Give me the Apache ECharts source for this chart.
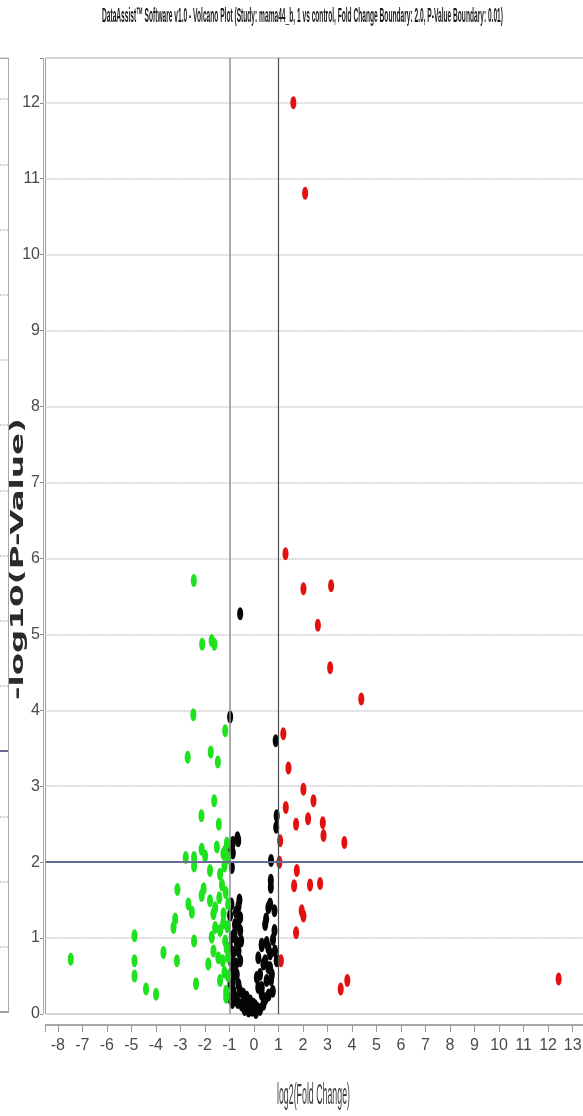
<!DOCTYPE html>
<html>
<head>
<meta charset="utf-8">
<script src="https://cdn.jsdelivr.net/npm/echarts@6/dist/echarts.min.js"></script>
<style>
  html, body { margin: 0; padding: 0; background: #ffffff; }
  #chart { width: 583px; height: 1116px; }
</style>
</head>
<body>
<div id="chart"></div>
<script>
// ---- Texts ----
const titleText = 'DataAssist\u2122 Software v1.0 - Volcano Plot (Study: mama44_b, 1 vs control, Fold Change Boundary: 2.0, P-Value Boundary: 0.01)';
const xAxisTitle = 'log2(Fold Change)';
const yAxisTitle = '-log10(P-Value)';

// ---- Boundaries used for the threshold lines ----
const foldChangeBoundary = 2.0;
const pValueBoundary = 0.01;

// ---- Axis ranges and tick labels ----
const xRange = [-8.5, 13.5];
const yRange = [0, 12.59];
const xTicks = [-8, -7, -6, -5, -4, -3, -2, -1, 0, 1, 2, 3, 4, 5, 6, 7, 8, 9, 10, 11, 12, 13];
const yTicks = [0, 1, 2, 3, 4, 5, 6, 7, 8, 9, 10, 11, 12];

// neighbouring panel (only its right edge is in view)
const prevPanelRange = [0, 14.63];
const prevPanelCutoff = 4;

// ---- Genes: [log2(fold change), -log10(p-value)] ----
const upRegulated = [
  [1.61, 12.0], [2.09, 10.81], [1.29, 6.06], [2.02, 5.60], [3.15, 5.64],
  [2.61, 5.12], [3.11, 4.56], [4.38, 4.15], [1.20, 3.69], [1.41, 3.24],
  [2.02, 2.96], [2.43, 2.81], [1.30, 2.72], [2.21, 2.57], [1.72, 2.50],
  [2.81, 2.52], [2.84, 2.35], [3.69, 2.26], [1.07, 2.28], [1.04, 2.00],
  [1.75, 1.89], [1.64, 1.69], [2.29, 1.70], [2.70, 1.72], [1.95, 1.36],
  [2.02, 1.29], [1.72, 1.07], [1.10, 0.70], [3.54, 0.33], [3.81, 0.44],
  [12.43, 0.46]
];

const downRegulated = [
  [-2.45, 5.71], [-2.11, 4.87], [-1.72, 4.92], [-1.61, 4.87],
  [-2.47, 3.94], [-1.17, 3.73], [-2.70, 3.38], [-1.76, 3.45], [-1.47, 3.32],
  [-1.62, 2.81], [-2.14, 2.61], [-1.43, 2.50],
  [-2.78, 2.06], [-2.44, 2.06], [-2.13, 2.17], [-1.99, 2.08], [-1.51, 2.20],
  [-1.24, 2.11], [-1.17, 2.15], [-1.10, 2.25],
  [-2.44, 1.95], [-1.79, 1.89], [-1.38, 1.84], [-1.20, 1.95], [-1.05, 2.05],
  [-3.12, 1.64], [-2.67, 1.45], [-2.53, 1.34], [-2.13, 1.56], [-2.05, 1.65],
  [-1.79, 1.49], [-1.58, 1.40], [-1.41, 1.53], [-1.24, 1.32], [-1.65, 1.32],
  [-1.30, 1.70], [-1.15, 1.60], [-1.05, 1.45],
  [-3.28, 1.14], [-3.21, 1.25], [-4.87, 1.03], [-2.44, 0.96], [-1.72, 1.01],
  [-1.58, 1.14], [-1.38, 1.10], [-1.17, 0.96], [-1.11, 0.87], [-1.25, 1.20],
  [-1.08, 1.15],
  [-7.47, 0.72], [-4.87, 0.70], [-3.69, 0.81], [-3.14, 0.70], [-1.86, 0.66],
  [-1.65, 0.83], [-1.45, 0.74], [-1.27, 0.70], [-1.05, 0.75],
  [-4.87, 0.50], [-4.40, 0.33], [-3.99, 0.26], [-2.36, 0.40], [-1.38, 0.44],
  [-1.13, 0.30], [-1.13, 0.22], [-1.20, 0.55], [-1.05, 0.50]
];

const unchanged = [
  [-0.56, 5.27], [-0.97, 3.91], [0.89, 3.60],
  [0.93, 2.61], [0.91, 2.46],
  [-0.64, 2.28], [-0.86, 2.26], [-0.94, 2.19], [-0.67, 2.32], [-0.86, 2.12],
  [-0.90, 1.93], [0.70, 2.02],
  [0.69, 1.67], [0.69, 1.76],
  [0.59, 1.40], [0.84, 1.36], [0.66, 1.45],
  [0.46, 1.18], [0.50, 1.25],
  [-0.63, 1.42], [-0.59, 1.50], [-0.73, 1.34], [-0.56, 1.27], [-0.77, 1.18], [-0.56, 1.10],
  [-0.90, 1.01], [-0.70, 0.94], [-0.52, 0.96], [-0.97, 0.87], [-0.84, 0.81], [-0.63, 0.83],
  [-0.94, 0.70], [-0.73, 0.66], [-0.56, 0.70], [-0.90, 0.57], [-0.70, 0.52], [-0.86, 0.44],
  [-0.63, 0.39], [-0.84, 0.30], [-0.56, 0.30], [-0.43, 0.26], [-0.29, 0.22], [-0.15, 0.17],
  [-0.02, 0.13], [0.12, 0.08], [0.25, 0.06], [0.39, 0.13], [0.32, 0.26], [0.18, 0.35],
  [0.25, 0.52], [0.18, 0.74], [0.32, 0.90], [0.52, 0.94], [0.46, 0.70], [0.66, 0.79],
  [0.59, 0.61], [0.73, 0.52], [0.52, 0.44], [0.77, 0.30],
  [0.32, 0.92], [0.59, 0.87], [0.39, 0.66], [0.66, 0.61], [0.93, 0.70], [0.12, 0.48], [0.32, 0.35],
  [0.05, 0.11], [-0.43, 0.17], [-0.15, 0.08], [-0.29, 0.13],
  [-0.95, 0.20], [-0.88, 0.15], [-0.75, 0.22], [-0.66, 0.15], [-0.50, 0.12], [-0.38, 0.06],
  [-0.22, 0.04], [-0.08, 0.05], [0.08, 0.02],
  [-0.97, 1.30], [-0.92, 1.45], [-0.85, 0.65], [-0.95, 0.40], [-0.80, 1.05], [-0.65, 1.18],
  [0.84, 1.10], [0.78, 0.98], [0.86, 0.83], [0.60, 0.25], [0.47, 0.20], [0.70, 0.45]
];

// ---- Styling ----
const labelFont = '"Liberation Sans Narrow", "Liberation Sans", Arial, sans-serif';
const titleFont = 'bold 21px "Liberation Sans", Arial, sans-serif';
const xNameFont = 'normal 30px "Liberation Sans", Arial, sans-serif';
const yNameFont = 'bold 17px "DejaVu Sans", sans-serif';
// upright oval marker
const ovalPath = 'path://M0,-1C0.55,-1 1,-0.55 1,0C1,0.55 0.55,1 0,1C-0.55,1 -1,0.55 -1,0C-1,-0.55 -0.55,-1 0,-1Z';
const markerSize = [6, 13];

function measure(text, font) {
  const ctx = document.createElement('canvas').getContext('2d');
  ctx.font = font;
  return ctx.measureText(text).width;
}

function tickFormatter(ticks) {
  return function (v) {
    const r = Math.round(v * 1000) / 1000;
    return ticks.indexOf(r) >= 0 ? String(r) : '';
  };
}

const gridLineStyle = { color: '#d6d6d6', width: 2, type: [2, 1] };

const chart = echarts.init(document.getElementById('chart'), null, { renderer: 'canvas' });

const option = {
  animation: false,
  backgroundColor: '#ffffff',
  graphic: [
    {
      type: 'text', x: 302.5, y: 16.5, silent: true,
      scaleX: 401 / measure(titleText, titleFont),
      style: { text: titleText, font: titleFont, fill: '#1a1a1a', align: 'center', verticalAlign: 'middle', textAlign: 'center', textVerticalAlign: 'middle' }
    },
    {
      type: 'text', x: 313.5, y: 1096, silent: true,
      scaleX: 73 / measure(xAxisTitle, xNameFont),
      style: { text: xAxisTitle, font: xNameFont, fill: '#3c3c3c', align: 'center', verticalAlign: 'middle', textAlign: 'center', textVerticalAlign: 'middle' }
    },
    {
      type: 'text', x: 19, y: 559, rotation: Math.PI / 2, silent: true,
      scaleX: 282 / measure(yAxisTitle, yNameFont),
      style: { text: yAxisTitle, font: yNameFont, fill: '#2a2a2a', align: 'center', verticalAlign: 'middle', textAlign: 'center', textVerticalAlign: 'middle' }
    }
  ],
  grid: [
    { left: 45.5, top: 58, width: 539.4, height: 956, show: true, borderColor: '#9c9c9c', borderWidth: 1, containLabel: false, outerBoundsMode: 'none' },
    { left: 0, top: 58, width: 8, height: 954, show: false, containLabel: false, outerBoundsMode: 'none' }
  ],
  xAxis: [
    {
      gridIndex: 0, type: 'value', min: xRange[0], max: xRange[1],
      minInterval: 1, maxInterval: 1, splitNumber: 22,
      axisLine: { show: false }, axisTick: { show: false }, axisLabel: { show: false }, splitLine: { show: false }
    },
    {
      gridIndex: 0, type: 'value', position: 'bottom', offset: 11,
      min: xRange[0], max: xRange[1], minInterval: 1, maxInterval: 1, splitNumber: 22,
      axisLine: { show: true, onZero: false, lineStyle: { color: '#a8a8a8', width: 2 } },
      axisTick: { show: true, length: 7, lineStyle: { color: '#9a9a9a', width: 1 } },
      axisLabel: {
        show: true, margin: 13, fontSize: 16, fontFamily: labelFont, color: '#4a4a4a',
        formatter: tickFormatter(xTicks), hideOverlap: false
      },
      splitLine: { show: false }
    },
    {
      gridIndex: 1, type: 'value', position: 'bottom', min: 0, max: 1,
      axisLine: { show: true, onZero: false, lineStyle: { color: '#a0a0a0', width: 2 } },
      axisTick: { show: false }, axisLabel: { show: false }, splitLine: { show: false }
    },
    {
      gridIndex: 1, type: 'value', position: 'top', min: 0, max: 1,
      axisLine: { show: true, onZero: false, lineStyle: { color: '#a8a8a8', width: 1 } },
      axisTick: { show: false }, axisLabel: { show: false }, splitLine: { show: false }
    }
  ],
  yAxis: [
    {
      gridIndex: 0, type: 'value', min: yRange[0], max: yRange[1],
      minInterval: 1, maxInterval: 1, splitNumber: 13, offset: 2.5,
      axisLine: { show: true, onZero: false, lineStyle: { color: '#a8a8a8', width: 1 } },
      axisTick: { show: true, length: 3, lineStyle: { color: '#8a8a8a' } },
      axisLabel: {
        show: true, margin: 3, fontSize: 16, fontFamily: labelFont, color: '#4a4a4a',
        formatter: tickFormatter(yTicks), hideOverlap: false
      },
      splitLine: { show: true, lineStyle: gridLineStyle }
    },
    {
      gridIndex: 1, type: 'value', position: 'right', min: prevPanelRange[0], max: prevPanelRange[1],
      minInterval: 1, maxInterval: 1, splitNumber: 15,
      axisLine: { show: true, onZero: false, lineStyle: { color: '#a8a8a8', width: 1 } },
      axisTick: { show: false }, axisLabel: { show: false },
      splitLine: { show: true, lineStyle: gridLineStyle }
    }
  ],
  series: [
    {
      // fold-change and p-value boundaries
      type: 'scatter', xAxisIndex: 0, yAxisIndex: 0, data: [], silent: true, z: 1,
      markLine: {
        silent: true, symbol: ['none', 'none'], label: { show: false },
        emphasis: { disabled: true },
        lineStyle: { type: 'solid' },
        data: [
          { xAxis: -Math.log2(foldChangeBoundary), lineStyle: { color: '#8e8e8e', width: 1.5, type: 'solid' } },
          { xAxis: Math.log2(foldChangeBoundary), lineStyle: { color: '#4e4e4e', width: 1.2, type: 'solid' } },
          { yAxis: -Math.log10(pValueBoundary), lineStyle: { color: '#676c96', width: 2.2, type: 'solid' } }
        ]
      }
    },
    {
      name: 'Unchanged', type: 'scatter', xAxisIndex: 0, yAxisIndex: 0, z: 3,
      data: unchanged, symbol: ovalPath, symbolSize: markerSize,
      itemStyle: { color: '#050505', opacity: 1 }
    },
    {
      name: 'Down-regulated', type: 'scatter', xAxisIndex: 0, yAxisIndex: 0, z: 4,
      data: downRegulated, symbol: ovalPath, symbolSize: markerSize,
      itemStyle: { color: '#1de21d', opacity: 1 }
    },
    {
      name: 'Up-regulated', type: 'scatter', xAxisIndex: 0, yAxisIndex: 0, z: 4,
      data: upRegulated, symbol: ovalPath, symbolSize: markerSize,
      itemStyle: { color: '#e3100f', opacity: 1 }
    },
    {
      // boundary line of the neighbouring panel
      type: 'scatter', xAxisIndex: 2, yAxisIndex: 1, data: [], silent: true, z: 1,
      markLine: {
        silent: true, symbol: ['none', 'none'], label: { show: false },
        emphasis: { disabled: true },
        data: [{ yAxis: prevPanelCutoff, lineStyle: { color: '#676c96', width: 2, type: 'solid' } }]
      }
    }
  ]
};

chart.setOption(option);
</script>
</body>
</html>
